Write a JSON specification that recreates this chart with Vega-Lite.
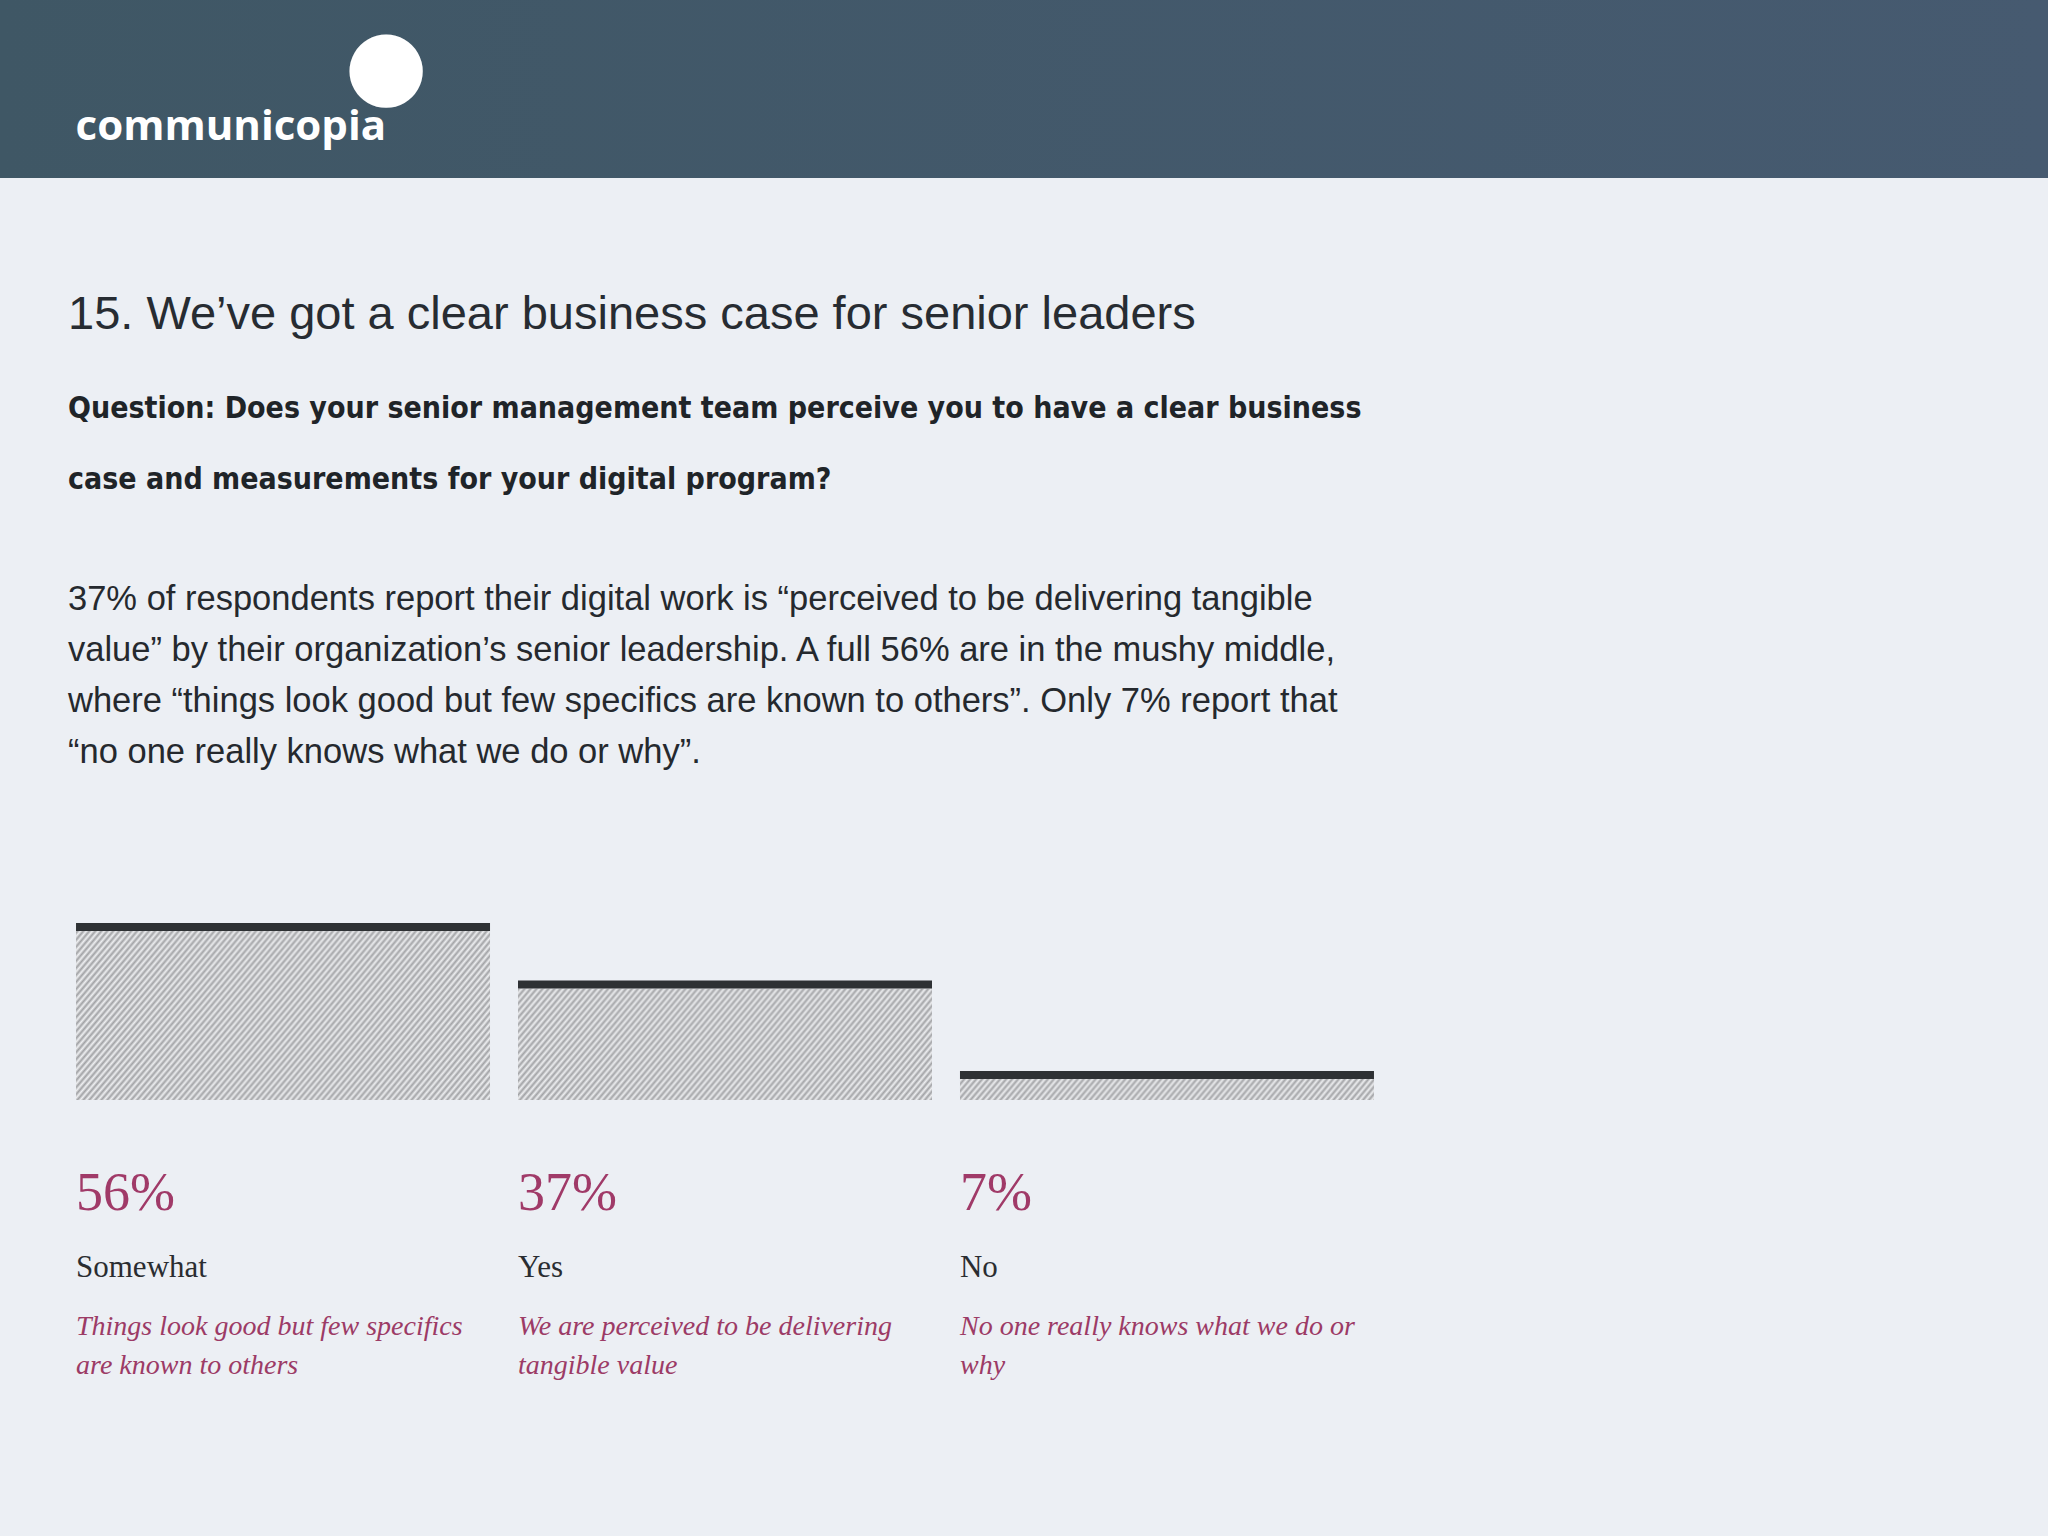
{
  "$schema": "https://vega.github.io/schema/vega-lite/v6.json",
  "background": "#eceff4",
  "padding": {"left": 0, "top": 0, "right": 0, "bottom": 170},
  "spacing": 112,
  "config": {"view": {"stroke": null}, "font": "Liberation Sans"},
  "vconcat": [
    {
      "width": 2048,
      "height": 178,
      "view": {"fill": "#42596a", "stroke": null},
      "title": {
        "text": "●",
        "subtitle": "communicopia\u00a0\u2800",
        "orient": "top",
        "anchor": "start",
        "align": "right",
        "dx": 428,
        "offset": -149,
        "font": "DejaVu Sans",
        "fontSize": 96,
        "fontWeight": "normal",
        "color": "#ffffff",
        "subtitleFont": "Open Sans",
        "subtitleFontSize": 42,
        "subtitleFontWeight": "bold",
        "subtitleColor": "#ffffff",
        "subtitlePadding": -9
      },
      "data": {"values": [{"brand": "communicopia"}]},
      "mark": {
        "type": "rect",
        "fill": {"gradient": "linear", "x1": 0, "y1": 0, "x2": 1, "y2": 0, "stops": [{"offset": 0, "color": "#3f5765"}, {"offset": 1, "color": "#465a70"}]}
      },
      "encoding": {}
    },
    {
      "title": {
        "text": "15. We’ve got a clear business case for senior leaders",
        "subtitle": ["Question: Does your senior management team perceive you to have a clear business", "case and measurements for your digital program?"],
        "anchor": "start",
        "dx": 68,
        "font": "Liberation Sans",
        "fontSize": 47,
        "fontWeight": "normal",
        "color": "#272c32",
        "baseline": "top",
        "subtitleFont": "Liberation Sans Narrow, DejaVu Sans Condensed, sans-serif",
        "subtitleFontSize": 30,
        "subtitleFontWeight": "bold",
        "subtitleColor": "#1f2428",
        "subtitleLineHeight": 71,
        "subtitlePadding": 55,
        "offset": 86
      },
      "vconcat": [
        {
          "width": 1450,
          "height": 181,
          "title": {
            "text": ["37% of respondents report their digital work is “perceived to be delivering tangible", "value” by their organization’s senior leadership. A full 56% are in the mushy middle,", "where “things look good but few specifics are known to others”. Only 7% report that", "“no one really knows what we do or why”."],
            "anchor": "start",
            "dx": 68,
            "font": "Liberation Sans",
            "fontSize": 34.5,
            "fontWeight": "normal",
            "lineHeight": 51,
            "color": "#25292e",
            "baseline": "top",
            "offset": 149
          },
          "data": {"values": [
            {"answer": "Somewhat", "share": 0.56, "note": "Things look good but few specifics\nare known to others"},
            {"answer": "Yes", "share": 0.37, "note": "We are perceived to be delivering\ntangible value"},
            {"answer": "No", "share": 0.07, "note": "No one really knows what we do or\nwhy"}
          ]},
          "encoding": {
            "x": {"field": "answer", "type": "nominal", "sort": null, "scale": {"paddingInner": 0.0633, "paddingOuter": 0.172}, "axis": null}
          },
          "layer": [
            {
              "mark": {
                "type": "bar",
                "stroke": null,
                "fill": {"gradient": "radial", "x1": -37.8, "y1": -31.65, "r1": 49.45, "x2": -37.8, "y2": -31.65, "r2": 50.55, "stops": [
{"offset":0,"color":"#a0a1a4"},{"offset":0.005,"color":"#eff0f2"},{"offset":0.01,"color":"#a0a1a4"},{"offset":0.015,"color":"#eff0f2"},{"offset":0.02,"color":"#a0a1a4"},{"offset":0.025,"color":"#eff0f2"},{"offset":0.03,"color":"#a0a1a4"},{"offset":0.035,"color":"#eff0f2"},{"offset":0.04,"color":"#a0a1a4"},{"offset":0.045,"color":"#eff0f2"},
{"offset":0.05,"color":"#a0a1a4"},{"offset":0.055,"color":"#eff0f2"},{"offset":0.06,"color":"#a0a1a4"},{"offset":0.065,"color":"#eff0f2"},{"offset":0.07,"color":"#a0a1a4"},{"offset":0.075,"color":"#eff0f2"},{"offset":0.08,"color":"#a0a1a4"},{"offset":0.085,"color":"#eff0f2"},{"offset":0.09,"color":"#a0a1a4"},{"offset":0.095,"color":"#eff0f2"},
{"offset":0.1,"color":"#a0a1a4"},{"offset":0.105,"color":"#eff0f2"},{"offset":0.11,"color":"#a0a1a4"},{"offset":0.115,"color":"#eff0f2"},{"offset":0.12,"color":"#a0a1a4"},{"offset":0.125,"color":"#eff0f2"},{"offset":0.13,"color":"#a0a1a4"},{"offset":0.135,"color":"#eff0f2"},{"offset":0.14,"color":"#a0a1a4"},{"offset":0.145,"color":"#eff0f2"},
{"offset":0.15,"color":"#a0a1a4"},{"offset":0.155,"color":"#eff0f2"},{"offset":0.16,"color":"#a0a1a4"},{"offset":0.165,"color":"#eff0f2"},{"offset":0.17,"color":"#a0a1a4"},{"offset":0.175,"color":"#eff0f2"},{"offset":0.18,"color":"#a0a1a4"},{"offset":0.185,"color":"#eff0f2"},{"offset":0.19,"color":"#a0a1a4"},{"offset":0.195,"color":"#eff0f2"},
{"offset":0.2,"color":"#a0a1a4"},{"offset":0.205,"color":"#eff0f2"},{"offset":0.21,"color":"#a0a1a4"},{"offset":0.215,"color":"#eff0f2"},{"offset":0.22,"color":"#a0a1a4"},{"offset":0.225,"color":"#eff0f2"},{"offset":0.23,"color":"#a0a1a4"},{"offset":0.235,"color":"#eff0f2"},{"offset":0.24,"color":"#a0a1a4"},{"offset":0.245,"color":"#eff0f2"},
{"offset":0.25,"color":"#a0a1a4"},{"offset":0.255,"color":"#eff0f2"},{"offset":0.26,"color":"#a0a1a4"},{"offset":0.265,"color":"#eff0f2"},{"offset":0.27,"color":"#a0a1a4"},{"offset":0.275,"color":"#eff0f2"},{"offset":0.28,"color":"#a0a1a4"},{"offset":0.285,"color":"#eff0f2"},{"offset":0.29,"color":"#a0a1a4"},{"offset":0.295,"color":"#eff0f2"},
{"offset":0.3,"color":"#a0a1a4"},{"offset":0.305,"color":"#eff0f2"},{"offset":0.31,"color":"#a0a1a4"},{"offset":0.315,"color":"#eff0f2"},{"offset":0.32,"color":"#a0a1a4"},{"offset":0.325,"color":"#eff0f2"},{"offset":0.33,"color":"#a0a1a4"},{"offset":0.335,"color":"#eff0f2"},{"offset":0.34,"color":"#a0a1a4"},{"offset":0.345,"color":"#eff0f2"},
{"offset":0.35,"color":"#a0a1a4"},{"offset":0.355,"color":"#eff0f2"},{"offset":0.36,"color":"#a0a1a4"},{"offset":0.365,"color":"#eff0f2"},{"offset":0.37,"color":"#a0a1a4"},{"offset":0.375,"color":"#eff0f2"},{"offset":0.38,"color":"#a0a1a4"},{"offset":0.385,"color":"#eff0f2"},{"offset":0.39,"color":"#a0a1a4"},{"offset":0.395,"color":"#eff0f2"},
{"offset":0.4,"color":"#a0a1a4"},{"offset":0.405,"color":"#eff0f2"},{"offset":0.41,"color":"#a0a1a4"},{"offset":0.415,"color":"#eff0f2"},{"offset":0.42,"color":"#a0a1a4"},{"offset":0.425,"color":"#eff0f2"},{"offset":0.43,"color":"#a0a1a4"},{"offset":0.435,"color":"#eff0f2"},{"offset":0.44,"color":"#a0a1a4"},{"offset":0.445,"color":"#eff0f2"},
{"offset":0.45,"color":"#a0a1a4"},{"offset":0.455,"color":"#eff0f2"},{"offset":0.46,"color":"#a0a1a4"},{"offset":0.465,"color":"#eff0f2"},{"offset":0.47,"color":"#a0a1a4"},{"offset":0.475,"color":"#eff0f2"},{"offset":0.48,"color":"#a0a1a4"},{"offset":0.485,"color":"#eff0f2"},{"offset":0.49,"color":"#a0a1a4"},{"offset":0.495,"color":"#eff0f2"},
{"offset":0.5,"color":"#a0a1a4"},{"offset":0.505,"color":"#eff0f2"},{"offset":0.51,"color":"#a0a1a4"},{"offset":0.515,"color":"#eff0f2"},{"offset":0.52,"color":"#a0a1a4"},{"offset":0.525,"color":"#eff0f2"},{"offset":0.53,"color":"#a0a1a4"},{"offset":0.535,"color":"#eff0f2"},{"offset":0.54,"color":"#a0a1a4"},{"offset":0.545,"color":"#eff0f2"},
{"offset":0.55,"color":"#a0a1a4"},{"offset":0.555,"color":"#eff0f2"},{"offset":0.56,"color":"#a0a1a4"},{"offset":0.565,"color":"#eff0f2"},{"offset":0.57,"color":"#a0a1a4"},{"offset":0.575,"color":"#eff0f2"},{"offset":0.58,"color":"#a0a1a4"},{"offset":0.585,"color":"#eff0f2"},{"offset":0.59,"color":"#a0a1a4"},{"offset":0.595,"color":"#eff0f2"},
{"offset":0.6,"color":"#a0a1a4"},{"offset":0.605,"color":"#eff0f2"},{"offset":0.61,"color":"#a0a1a4"},{"offset":0.615,"color":"#eff0f2"},{"offset":0.62,"color":"#a0a1a4"},{"offset":0.625,"color":"#eff0f2"},{"offset":0.63,"color":"#a0a1a4"},{"offset":0.635,"color":"#eff0f2"},{"offset":0.64,"color":"#a0a1a4"},{"offset":0.645,"color":"#eff0f2"},
{"offset":0.65,"color":"#a0a1a4"},{"offset":0.655,"color":"#eff0f2"},{"offset":0.66,"color":"#a0a1a4"},{"offset":0.665,"color":"#eff0f2"},{"offset":0.67,"color":"#a0a1a4"},{"offset":0.675,"color":"#eff0f2"},{"offset":0.68,"color":"#a0a1a4"},{"offset":0.685,"color":"#eff0f2"},{"offset":0.69,"color":"#a0a1a4"},{"offset":0.695,"color":"#eff0f2"},
{"offset":0.7,"color":"#a0a1a4"},{"offset":0.705,"color":"#eff0f2"},{"offset":0.71,"color":"#a0a1a4"},{"offset":0.715,"color":"#eff0f2"},{"offset":0.72,"color":"#a0a1a4"},{"offset":0.725,"color":"#eff0f2"},{"offset":0.73,"color":"#a0a1a4"},{"offset":0.735,"color":"#eff0f2"},{"offset":0.74,"color":"#a0a1a4"},{"offset":0.745,"color":"#eff0f2"},
{"offset":0.75,"color":"#a0a1a4"},{"offset":0.755,"color":"#eff0f2"},{"offset":0.76,"color":"#a0a1a4"},{"offset":0.765,"color":"#eff0f2"},{"offset":0.77,"color":"#a0a1a4"},{"offset":0.775,"color":"#eff0f2"},{"offset":0.78,"color":"#a0a1a4"},{"offset":0.785,"color":"#eff0f2"},{"offset":0.79,"color":"#a0a1a4"},{"offset":0.795,"color":"#eff0f2"},
{"offset":0.8,"color":"#a0a1a4"},{"offset":0.805,"color":"#eff0f2"},{"offset":0.81,"color":"#a0a1a4"},{"offset":0.815,"color":"#eff0f2"},{"offset":0.82,"color":"#a0a1a4"},{"offset":0.825,"color":"#eff0f2"},{"offset":0.83,"color":"#a0a1a4"},{"offset":0.835,"color":"#eff0f2"},{"offset":0.84,"color":"#a0a1a4"},{"offset":0.845,"color":"#eff0f2"},
{"offset":0.85,"color":"#a0a1a4"},{"offset":0.855,"color":"#eff0f2"},{"offset":0.86,"color":"#a0a1a4"},{"offset":0.865,"color":"#eff0f2"},{"offset":0.87,"color":"#a0a1a4"},{"offset":0.875,"color":"#eff0f2"},{"offset":0.88,"color":"#a0a1a4"},{"offset":0.885,"color":"#eff0f2"},{"offset":0.89,"color":"#a0a1a4"},{"offset":0.895,"color":"#eff0f2"},
{"offset":0.9,"color":"#a0a1a4"},{"offset":0.905,"color":"#eff0f2"},{"offset":0.91,"color":"#a0a1a4"},{"offset":0.915,"color":"#eff0f2"},{"offset":0.92,"color":"#a0a1a4"},{"offset":0.925,"color":"#eff0f2"},{"offset":0.93,"color":"#a0a1a4"},{"offset":0.935,"color":"#eff0f2"},{"offset":0.94,"color":"#a0a1a4"},{"offset":0.945,"color":"#eff0f2"},
{"offset":0.95,"color":"#a0a1a4"},{"offset":0.955,"color":"#eff0f2"},{"offset":0.96,"color":"#a0a1a4"},{"offset":0.965,"color":"#eff0f2"},{"offset":0.97,"color":"#a0a1a4"},{"offset":0.975,"color":"#eff0f2"},{"offset":0.98,"color":"#a0a1a4"},{"offset":0.985,"color":"#eff0f2"},{"offset":0.99,"color":"#a0a1a4"},{"offset":0.995,"color":"#eff0f2"},
{"offset":1,"color":"#a0a1a4"}
                ]}
              },
              "encoding": {
                "y": {"field": "share", "type": "quantitative", "scale": {"domain": [0, 0.6], "nice": false}, "axis": null}
              }
            },
            {
              "mark": {"type": "tick", "orient": "horizontal", "thickness": 8, "size": 414, "color": "#2e3134", "opacity": 1, "yOffset": -4},
              "encoding": {
                "y": {"field": "share", "type": "quantitative"}
              }
            },
            {
              "mark": {"type": "text", "align": "left", "baseline": "alphabetic", "dy": 110, "font": "Liberation Serif", "fontSize": 54, "color": "#a03a68"},
              "encoding": {
                "x": {"field": "answer", "type": "nominal", "sort": null, "bandPosition": 0},
                "y": {"datum": 0},
                "text": {"field": "share", "type": "quantitative", "format": ".0%"}
              }
            },
            {
              "mark": {"type": "text", "align": "left", "baseline": "alphabetic", "dy": 177, "font": "Liberation Serif", "fontSize": 31, "color": "#2a2d31"},
              "encoding": {
                "x": {"field": "answer", "type": "nominal", "sort": null, "bandPosition": 0},
                "y": {"datum": 0},
                "text": {"field": "answer", "type": "nominal"}
              }
            },
            {
              "mark": {"type": "text", "align": "left", "baseline": "alphabetic", "dy": 235, "font": "Liberation Serif", "fontSize": 28, "fontStyle": "italic", "lineHeight": 39, "lineBreak": "\n", "color": "#9c3b66"},
              "encoding": {
                "x": {"field": "answer", "type": "nominal", "sort": null, "bandPosition": 0},
                "y": {"datum": 0},
                "text": {"field": "note", "type": "nominal"}
              }
            }
          ]
        }
      ]
    }
  ]
}
